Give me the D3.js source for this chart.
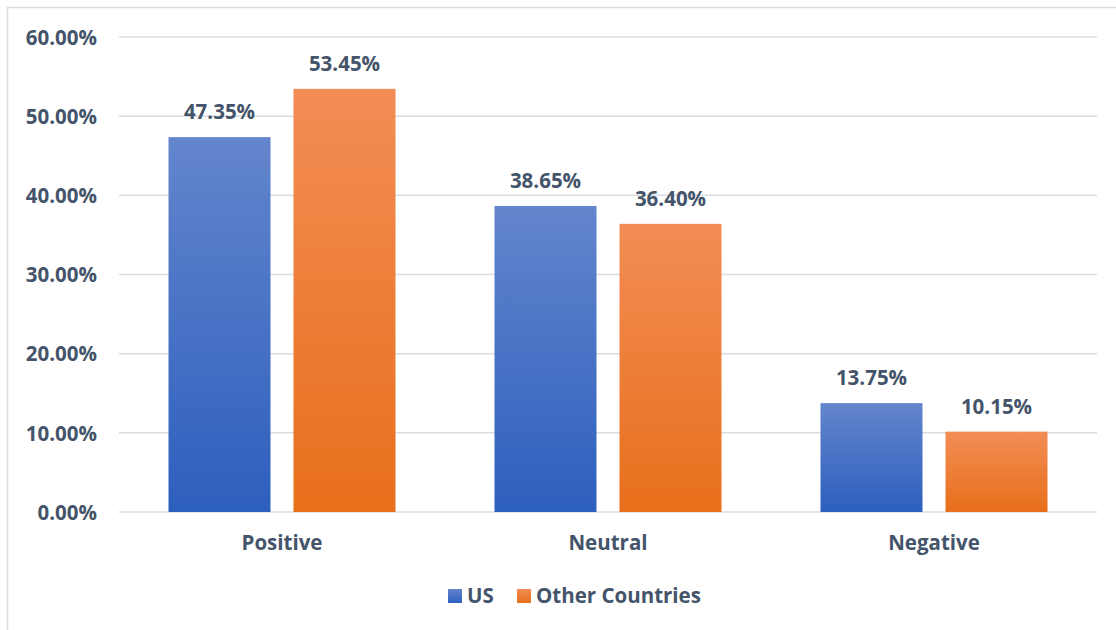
<!DOCTYPE html>
<html>
<head>
<meta charset="utf-8">
<script src="https://cdn.jsdelivr.net/npm/d3@7"></script>
<style>
  html, body { margin: 0; padding: 0; background: #fff; }
  svg { display: block; }
  text { font-family: "Open Sans", "Noto Sans", sans-serif; font-weight: 700; fill: #44546a; }
</style>
</head>
<body>
<svg id="chart" width="1116" height="630"></svg>
<script>
// Sentiment share by region
const categories = ["Positive", "Neutral", "Negative"];
const seriesNames = ["US", "Other Countries"];
const usValues = [47.35, 38.65, 13.75];
const otherValues = [53.45, 36.40, 10.15];
const yTicks = [0, 10, 20, 30, 40, 50, 60];

const seriesValues = [usValues, otherValues];
const seriesColors = [
  { top: "#6385cc", bottom: "#2d5fbe" },
  { top: "#f28d55", bottom: "#e86f1b" }
];

const W = 1116, H = 630;
const margin = { left: 119, right: 19, top: 37, bottom: 118 };
const fontSize = 20.5;
const svg = d3.select("#chart");

// outer frame
svg.append("rect")
  .attr("x", 7.5).attr("y", 7.5)
  .attr("width", W + 10).attr("height", H + 10)
  .attr("fill", "none").attr("stroke", "#d9dde3").attr("stroke-width", 1.5);

const defs = svg.append("defs");
seriesColors.forEach((c, i) => {
  const g = defs.append("linearGradient")
    .attr("id", "grad" + i)
    .attr("x1", 0).attr("y1", 0).attr("x2", 0).attr("y2", 1);
  g.append("stop").attr("offset", "0%").attr("stop-color", c.top);
  g.append("stop").attr("offset", "100%").attr("stop-color", c.bottom);
});

const x0 = d3.scaleBand()
  .domain(categories)
  .range([margin.left, W - margin.right])
  .paddingInner(0).paddingOuter(0);

const barW = 102, barGap = 23;
const x1 = d3.scaleOrdinal()
  .domain(seriesNames)
  .range([
    (x0.bandwidth() - (2 * barW + barGap)) / 2,
    (x0.bandwidth() - (2 * barW + barGap)) / 2 + barW + barGap
  ]);

const y = d3.scaleLinear().domain([0, 60]).range([H - margin.bottom, margin.top]);

// gridlines
svg.append("g")
  .selectAll("line")
  .data(yTicks)
  .join("line")
  .attr("x1", margin.left).attr("x2", W - margin.right)
  .attr("y1", d => y(d)).attr("y2", d => y(d))
  .attr("stroke", "#d9dde3").attr("stroke-width", 1.5);

// y axis labels
const yAxis = d3.axisLeft(y)
  .tickValues(yTicks)
  .tickSize(0)
  .tickPadding(0)
  .tickFormat(d => d3.format(".2f")(d) + "%");
const yg = svg.append("g")
  .attr("transform", `translate(${margin.left - 22},0)`)
  .call(yAxis);
yg.select(".domain").remove();
yg.selectAll("text")
  .attr("font-size", fontSize)
  .attr("font-family", null)
  .attr("fill", "#44546a")
  .attr("dy", "0.35em");

// bars
const groups = svg.append("g")
  .selectAll("g")
  .data(categories)
  .join("g")
  .attr("transform", d => `translate(${x0(d)},0)`);

groups.selectAll("rect")
  .data((d, ci) => seriesNames.map((s, si) => ({ s, si, v: seriesValues[si][ci] })))
  .join("rect")
  .attr("x", d => x1(d.s))
  .attr("width", barW)
  .attr("y", d => y(d.v))
  .attr("height", d => y(0) - y(d.v))
  .attr("fill", d => `url(#grad${d.si})`);

// value labels
groups.selectAll("text.value")
  .data((d, ci) => seriesNames.map((s, si) => ({ s, si, v: seriesValues[si][ci] })))
  .join("text")
  .attr("class", "value")
  .attr("x", d => x1(d.s) + barW / 2)
  .attr("y", d => y(d.v) - 18)
  .attr("text-anchor", "middle")
  .attr("font-size", fontSize)
  .text(d => d3.format(".2f")(d.v) + "%");

// category axis labels
const xAxis = d3.axisBottom(x0).tickSize(0).tickPadding(0);
const xg = svg.append("g")
  .attr("transform", `translate(0,${y(0)})`)
  .call(xAxis);
xg.select(".domain").remove();
xg.selectAll("text")
  .attr("font-size", fontSize)
  .attr("font-family", null)
  .attr("fill", "#44546a")
  .attr("dy", null)
  .attr("y", 38);

// legend
const legendItems = [
  { name: seriesNames[0], x: 448, si: 0 },
  { name: seriesNames[1], x: 517, si: 1 }
];
const legend = svg.append("g");
legendItems.forEach(it => {
  legend.append("rect")
    .attr("x", it.x).attr("y", 589)
    .attr("width", 14).attr("height", 14)
    .attr("fill", `url(#grad${it.si})`);
  legend.append("text")
    .attr("x", it.x + 19).attr("y", 603)
    .attr("font-size", fontSize)
    .text(it.name);
});
</script>
</body>
</html>
